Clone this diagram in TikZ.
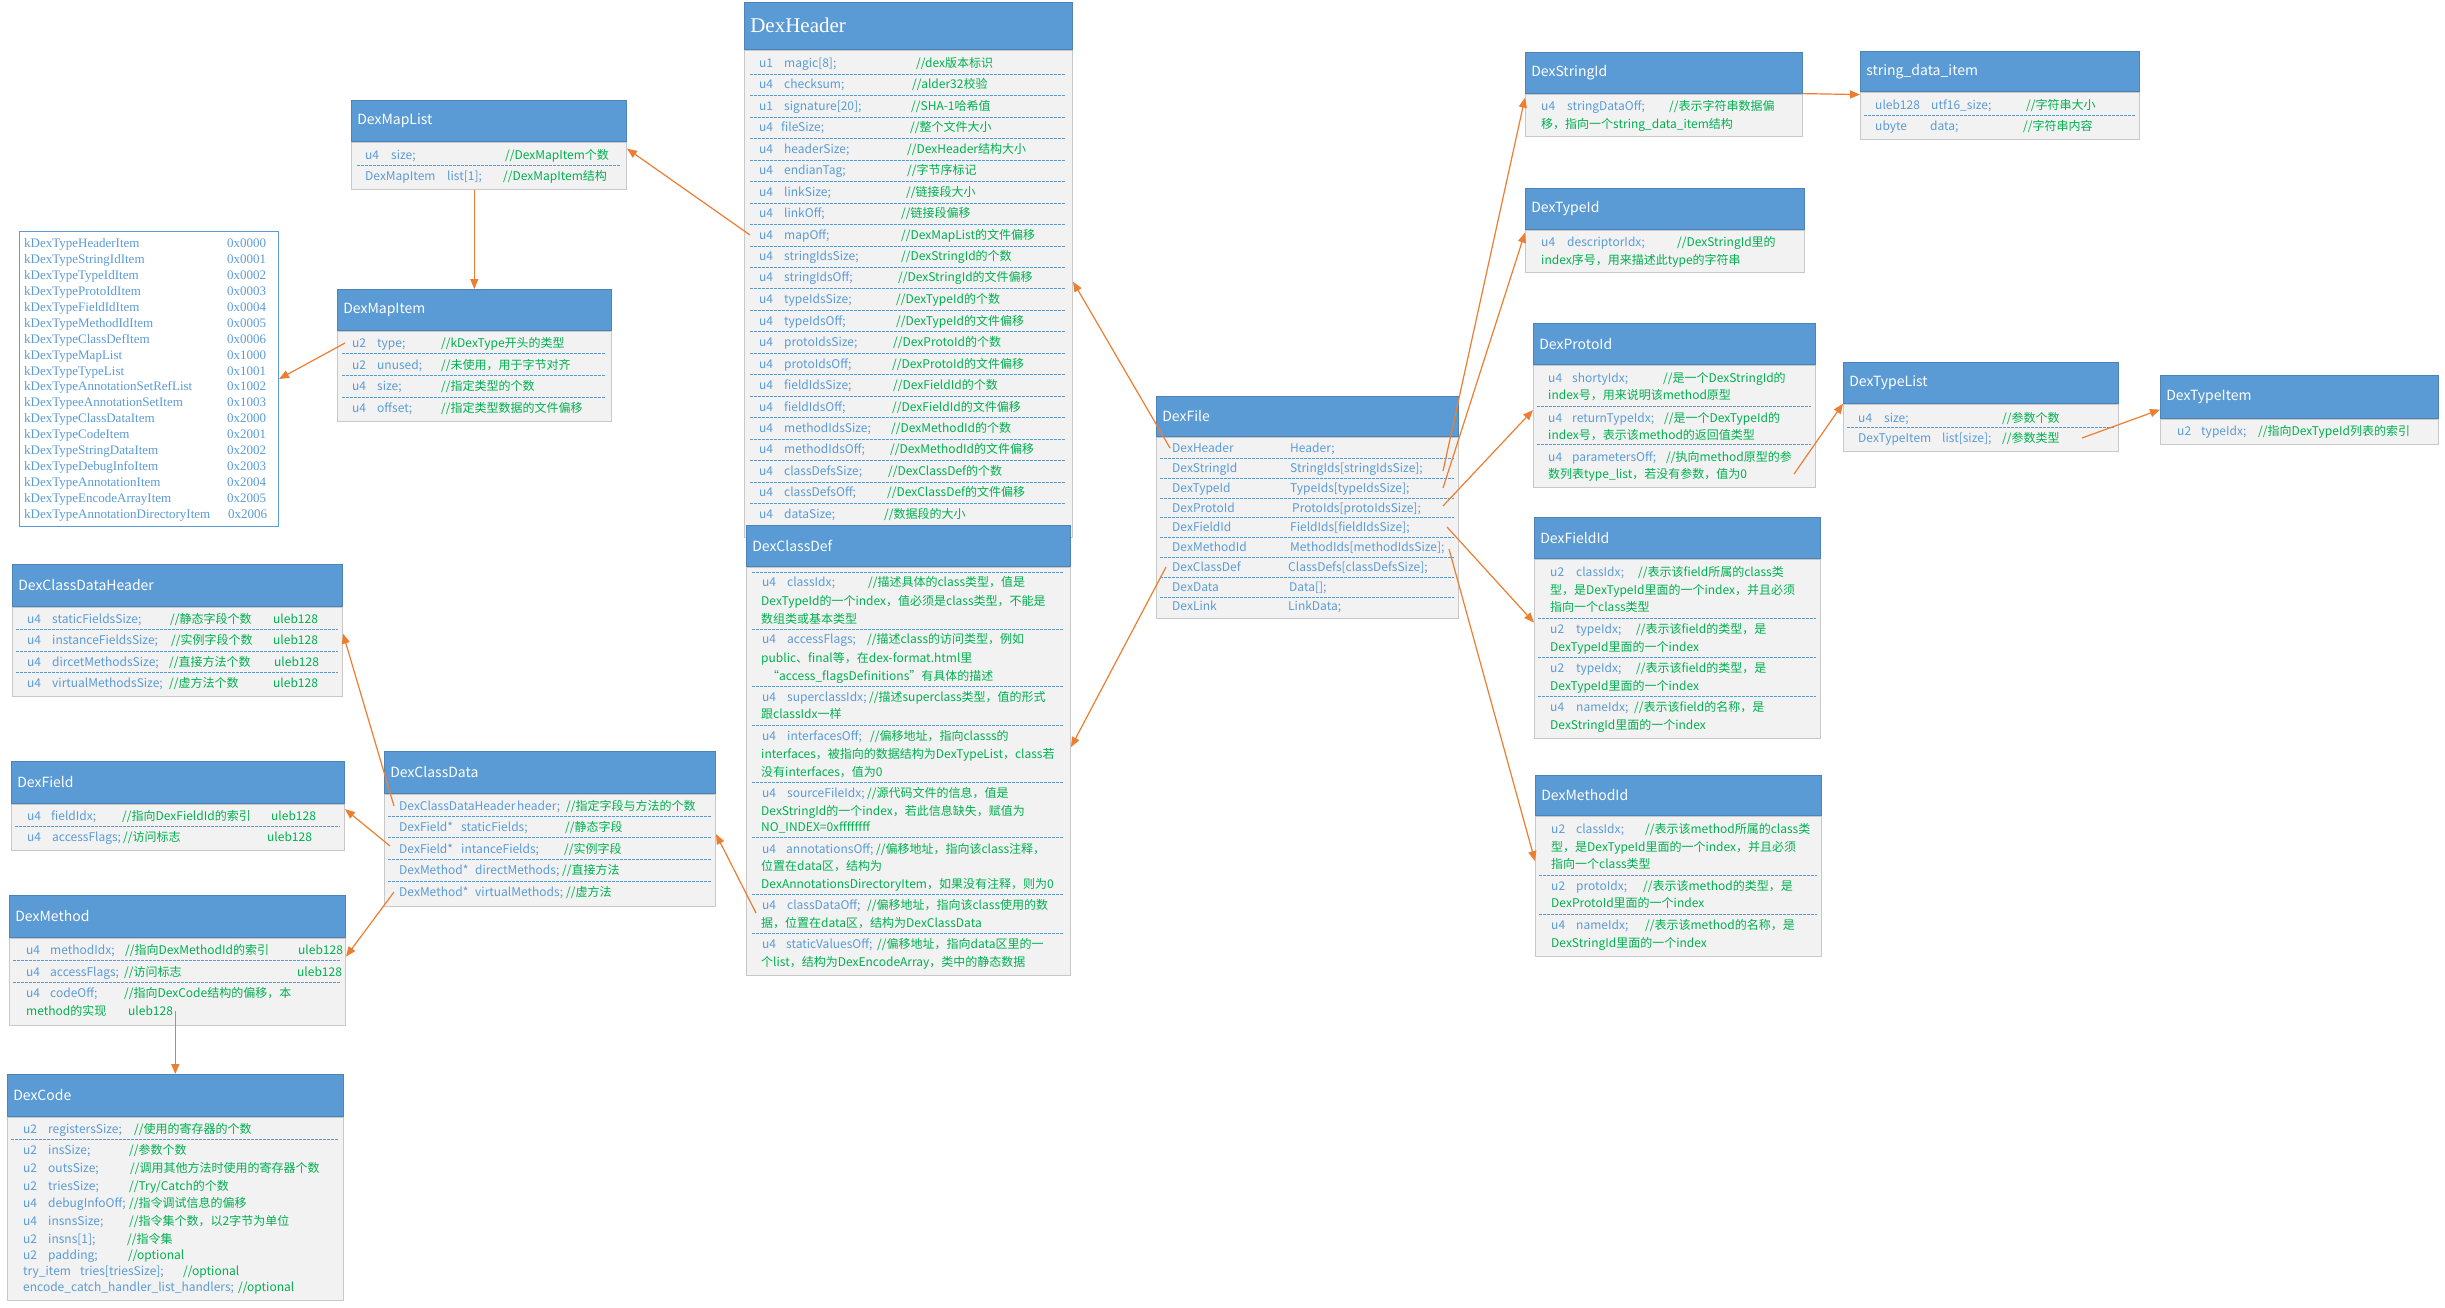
\documentclass[tikz,border=0pt]{standalone}
\usepackage{fontspec}
\setmainfont{Noto Sans CJK SC}
\newfontfamily\serifk{Liberation Serif}
\usepackage{xcolor}
\usepackage{tikz}
\usetikzlibrary{arrows.meta}
\usetikzlibrary{calc}

\definecolor{hblue}{HTML}{5B9BD5}
\definecolor{fblue}{HTML}{5B9BD5}
\definecolor{cgreen}{HTML}{00B050}
\definecolor{bgray}{HTML}{F2F2F2}
\definecolor{lgray}{HTML}{C8C8C8}
\definecolor{aorange}{HTML}{ED7D31}

\newcommand\bx[7]{%
  \node[hd, minimum height=#5pt, anchor=north west] (#1H) at (#2,#3) {\makebox[\dimexpr#4pt-12pt\relax][l]{#7}};
  \node[bd, minimum width=#4pt, minimum height=#6pt, anchor=north west] (#1B) at (#1H.south west) {};}
\newcommand\rw[8]{%
  \node[fn] (#1a) at (#2,#5) {#6};
  \node[fn] (#1b) at (#3,#5) {#7};
  \node[gc] (#1c) at (#4,#5) {#8};}
\newcommand\rt[7]{%
  \node[#1] (#2a) at (#3,#5) {#6};
  \node[#1] (#2b) at (#4,#5) {#7};}

\begin{document}
\begin{tikzpicture}[x=1pt, y=-1pt,
  hd/.style={fill=hblue, draw=hblue!85!black, line width=0.6pt, text=white, font=\fontsize{14}{16}\selectfont, inner xsep=6pt, inner ysep=0pt},
  bd/.style={fill=bgray, draw=lgray, line width=1pt, inner sep=0pt},
  kbox/.style={fill=white, draw=hblue, line width=1pt, inner sep=0pt},
  fn/.style={anchor=west, inner sep=0pt, text height=10pt, text depth=2pt, text=fblue, font=\fontsize{12}{14}\selectfont},
  gc/.style={fn, text=cgreen},
  kt/.style={fn, font=\serifk\fontsize{13}{15}\selectfont},
  sp/.style={draw=hblue, line width=0.8pt, dash pattern=on 2.5pt off 1.5pt},
  ar/.style={draw=aorange, line width=1.2pt, -{Triangle[length=10pt,width=8pt]}}]
\fill[white] (0,0) rectangle (2445,1307);
\useasboundingbox (0,0) rectangle (2445,1307);

\bx{dh}{744}{2}{328}{47}{487}{\serifk\fontsize{21}{24}\selectfont DexHeader}
\rw{dh1}{759}{784}{916}{63}{u1}{magic[8];}{//dex版本标识}
\rw{dh2}{759}{784}{912}{84}{u4}{checksum;}{//alder32校验}
\rw{dh3}{759}{784}{911}{106}{u1}{signature[20];}{//SHA-1哈希值}
\rw{dh4}{759}{781}{910}{127}{u4}{fileSize;}{//整个文件大小}
\rw{dh5}{759}{784}{907}{149}{u4}{headerSize;}{//DexHeader结构大小}
\rw{dh6}{759}{784}{907}{170}{u4}{endianTag;}{//字节序标记}
\rw{dh7}{759}{784}{906}{192}{u4}{linkSize;}{//链接段大小}
\rw{dh8}{759}{784}{901}{213}{u4}{linkOff;}{//链接段偏移}
\rw{dh9}{759}{784}{901}{235}{u4}{mapOff;}{//DexMapList的文件偏移}
\rw{dh10}{759}{784}{901}{256}{u4}{stringIdsSize;}{//DexStringId的个数}
\rw{dh11}{759}{784}{898}{277}{u4}{stringIdsOff;}{//DexStringId的文件偏移}
\rw{dh12}{759}{784}{896}{299}{u4}{typeIdsSize;}{//DexTypeId的个数}
\rw{dh13}{759}{784}{896}{321}{u4}{typeIdsOff;}{//DexTypeId的文件偏移}
\rw{dh14}{759}{784}{893}{342}{u4}{protoIdsSize;}{//DexProtoId的个数}
\rw{dh15}{759}{784}{892}{364}{u4}{protoIdsOff;}{//DexProtoId的文件偏移}
\rw{dh16}{759}{784}{893}{385}{u4}{fieldIdsSize;}{//DexFieldId的个数}
\rw{dh17}{759}{784}{892}{407}{u4}{fieldIdsOff;}{//DexFieldId的文件偏移}
\rw{dh18}{759}{784}{891}{428}{u4}{methodIdsSize;}{//DexMethodId的个数}
\rw{dh19}{759}{784}{890}{449}{u4}{methodIdsOff;}{//DexMethodId的文件偏移}
\rw{dh20}{759}{784}{888}{471}{u4}{classDefsSize;}{//DexClassDef的个数}
\rw{dh21}{759}{784}{887}{492}{u4}{classDefsOff;}{//DexClassDef的文件偏移}
\rw{dh22}{759}{784}{884}{514}{u4}{dataSize;}{//数据段的大小}
\foreach \y in {74,95,117,138,160,181,203,224,246,267,288,310,331,353,374,396,417,439,460,482,503}
  \draw[sp] (750,\y) -- (1066,\y);

\bx{cd}{746}{525}{324}{41}{408}{DexClassDef}
\rw{cd1}{762}{787}{868}{582}{u4}{classIdx;}{//描述具体的class类型，值是}
\node[gc] (cd1d) at (761,601) {DexTypeId的一个index，值必须是class类型，不能是};
\node[gc] (cd1e) at (761,619) {数组类或基本类型};
\rw{cd2}{762}{787}{867}{639}{u4}{accessFlags;}{//描述class的访问类型，例如}
\node[gc] (cd2d) at (761,658) {public、final等，在dex-format.html里};
\node[gc] (cd2e) at (767,676) {“access\_flagsDefinitions"有具体的描述};
\rw{cd3}{762}{787}{869}{697}{u4}{superclassIdx;}{//描述superclass类型，值的形式}
\node[gc] (cd3d) at (761,714) {跟classIdx一样};
\rw{cd4}{762}{787}{870}{736}{u4}{interfacesOff;}{//偏移地址，指向classs的}
\node[gc] (cd4d) at (761,754) {interfaces，被指向的数据结构为DexTypeList，class若};
\node[gc] (cd4e) at (761,772) {没有interfaces，值为0};
\rw{cd5}{762}{787}{867}{793}{u4}{sourceFileIdx;}{//源代码文件的信息，值是}
\node[gc] (cd5d) at (761,811) {DexStringId的一个index，若此信息缺失，赋值为};
\node[gc] (cd5e) at (761,827) {NO\_INDEX=0xffffffff};
\rw{cd6}{762}{786}{876}{849}{u4}{annotationsOff;}{//偏移地址，指向该class注释，}
\node[gc] (cd6d) at (761,866) {位置在data区，结构为};
\node[gc] (cd6e) at (761,884) {DexAnnotationsDirectoryItem，如果没有注释，则为0};
\rw{cd7}{762}{787}{867}{905}{u4}{classDataOff;}{//偏移地址，指向该class使用的数}
\node[gc] (cd7d) at (761,923) {据，位置在data区，结构为DexClassData};
\rw{cd8}{762}{786}{877}{944}{u4}{staticValuesOff;}{//偏移地址，指向data区里的一}
\node[gc] (cd8d) at (761,962) {个list，结构为DexEncodeArray，类中的静态数据};
\foreach \y in {572,629,686,725,782,837,894,933}
  \draw[sp] (752,\y) -- (1064,\y);

\bx{ml}{351}{100}{275}{41}{47}{DexMapList}
\rw{ml1}{365}{391}{505}{155}{u4}{size;}{//DexMapItem个数}
\rw{ml2}{365}{447}{503}{176}{DexMapItem}{list[1];}{//DexMapItem结构}
\draw[sp] (357,165) -- (620,165);

\bx{mi}{337}{289}{274}{41}{90}{DexMapItem}
\rw{mi1}{352}{377}{441}{343}{u2}{type;}{//kDexType开头的类型}
\rw{mi2}{352}{377}{441}{365}{u2}{unused;}{//未使用，用于字节对齐}
\rw{mi3}{352}{377}{441}{386}{u4}{size;}{//指定类型的个数}
\rw{mi4}{352}{377}{441}{408}{u4}{offset;}{//指定类型数据的文件偏移}
\foreach \y in {353,375,397}
  \draw[sp] (342,\y) -- (606,\y);

\node[kbox, minimum width=259pt, minimum height=295pt, anchor=north west] (kd) at (19,231) {};
\rt{kt}{k1}{24}{227}{243}{kDexTypeHeaderItem}{0x0000}
\rt{kt}{k2}{24}{227}{259}{kDexTypeStringIdItem}{0x0001}
\rt{kt}{k3}{24}{227}{275}{kDexTypeTypeIdItem}{0x0002}
\rt{kt}{k4}{24}{227}{291}{kDexTypeProtoIdItem}{0x0003}
\rt{kt}{k5}{24}{227}{307}{kDexTypeFieldIdItem}{0x0004}
\rt{kt}{k6}{24}{227}{323}{kDexTypeMethodIdItem}{0x0005}
\rt{kt}{k7}{24}{227}{339}{kDexTypeClassDefItem}{0x0006}
\rt{kt}{k8}{24}{227}{355}{kDexTypeMapList}{0x1000}
\rt{kt}{k9}{24}{227}{371}{kDexTypeTypeList}{0x1001}
\rt{kt}{k10}{24}{227}{386}{kDexTypeAnnotationSetRefList}{0x1002}
\rt{kt}{k11}{24}{227}{402}{kDexTypeeAnnotationSetItem}{0x1003}
\rt{kt}{k12}{24}{227}{418}{kDexTypeClassDataItem}{0x2000}
\rt{kt}{k13}{24}{227}{434}{kDexTypeCodeItem}{0x2001}
\rt{kt}{k14}{24}{227}{450}{kDexTypeStringDataItem}{0x2002}
\rt{kt}{k15}{24}{227}{466}{kDexTypeDebugInfoItem}{0x2003}
\rt{kt}{k16}{24}{227}{482}{kDexTypeAnnotationItem}{0x2004}
\rt{kt}{k17}{24}{227}{498}{kDexTypeEncodeArrayItem}{0x2005}
\rt{kt}{k18}{24}{228}{514}{kDexTypeAnnotationDirectoryItem}{0x2006}

\bx{ch}{12}{564}{330}{42}{89}{DexClassDataHeader}
\rw{ch1}{27}{52}{170}{619}{u4}{staticFieldsSize;}{//静态字段个数}
\node[gc] (ch1d) at (273,619) {uleb128};
\rw{ch2}{27}{52}{171}{640}{u4}{instanceFieldsSize;}{//实例字段个数}
\node[gc] (ch2d) at (273,640) {uleb128};
\rw{ch3}{27}{52}{169}{662}{u4}{dircetMethodsSize;}{//直接方法个数}
\node[gc] (ch3d) at (274,662) {uleb128};
\rw{ch4}{27}{52}{169}{683}{u4}{virtualMethodsSize;}{//虚方法个数}
\node[gc] (ch4d) at (273,683) {uleb128};
\foreach \y in {629,651,672}
  \draw[sp] (16,\y) -- (338,\y);

\bx{fi}{11}{761}{333}{42}{46}{DexField}
\rw{fi1}{27}{51}{122}{816}{u4}{fieldIdx;}{//指向DexFieldId的索引}
\node[gc] (fi1d) at (271,816) {uleb128};
\rw{fi2}{27}{52}{123}{837}{u4}{accessFlags;}{//访问标志}
\node[gc] (fi2d) at (267,837) {uleb128};
\draw[sp] (15,826) -- (340,826);

\bx{me}{9}{895}{336}{42}{87}{DexMethod}
\rw{me1}{26}{50}{125}{950}{u4}{methodIdx;}{//指向DexMethodId的索引}
\node[gc] (me1d) at (298,950) {uleb128};
\rw{me2}{26}{50}{124}{972}{u4}{accessFlags;}{//访问标志}
\node[gc] (me2d) at (297,972) {uleb128};
\rw{me3}{26}{50}{124}{993}{u4}{codeOff;}{//指向DexCode结构的偏移，本}
\node[gc] (me3d) at (26,1011) {method的实现};
\node[gc] (me3e) at (128,1011) {uleb128};
\foreach \y in {960,982}
  \draw[sp] (13,\y) -- (341,\y);

\bx{co}{7}{1074}{336}{42}{183}{DexCode}
\rw{co1}{23}{48}{134}{1129}{u2}{registersSize;}{//使用的寄存器的个数}
\draw[sp] (11,1139) -- (339,1139);
\rw{co2}{23}{48}{129}{1150}{u2}{insSize;}{//参数个数}
\rw{co3}{23}{48}{130}{1168}{u2}{outsSize;}{//调用其他方法时使用的寄存器个数}
\rw{co4}{23}{48}{129}{1186}{u2}{triesSize;}{//Try/Catch的个数}
\rw{co5}{23}{48}{129}{1203}{u4}{debugInfoOff;}{//指令调试信息的偏移}
\rw{co6}{23}{48}{129}{1221}{u4}{insnsSize;}{//指令集个数，以2字节为单位}
\rw{co7}{23}{48}{127}{1239}{u2}{insns[1];}{//指令集}
\rw{co8}{23}{48}{128}{1255}{u2}{padding;}{//optional}
\rw{co9}{23}{80}{183}{1271}{try\_item}{tries[triesSize];}{//optional}
\node[fn] (co10a) at (23,1287) {encode\_catch\_handler\_list\_handlers;};
\node[gc] (co10c) at (238,1287) {//optional};

\bx{cl}{384}{751}{331}{42}{112}{DexClassData}
\rw{cl1}{399}{517}{566}{806}{DexClassDataHeader}{header;}{//指定字段与方法的个数}
\rw{cl2}{399}{461}{565}{827}{DexField*}{staticFields;}{//静态字段}
\rw{cl3}{399}{461}{564}{849}{DexField*}{intanceFields;}{//实例字段}
\rw{cl4}{399}{475}{562}{870}{DexMethod*}{directMethods;}{//直接方法}
\rw{cl5}{399}{475}{566}{892}{DexMethod*}{virtualMethods;}{//虚方法}
\foreach \y in {816,837,859,881}
  \draw[sp] (388,\y) -- (711,\y);

\bx{df}{1156}{396}{302}{40}{181}{DexFile}
\rt{fn}{df1}{1172}{1290}{448}{DexHeader}{Header;}
\rt{fn}{df2}{1172}{1290}{468}{DexStringId}{StringIds[stringIdsSize];}
\rt{fn}{df3}{1172}{1290}{488}{DexTypeId}{TypeIds[typeIdsSize];}
\rt{fn}{df4}{1172}{1292}{508}{DexProtoId}{ProtoIds[protoIdsSize];}
\rt{fn}{df5}{1172}{1290}{527}{DexFieldId}{FieldIds[fieldIdsSize];}
\rt{fn}{df6}{1172}{1290}{547}{DexMethodId}{MethodIds[methodIdsSize];}
\rt{fn}{df7}{1172}{1288}{567}{DexClassDef}{ClassDefs[classDefsSize];}
\rt{fn}{df8}{1172}{1289}{587}{DexData}{Data[];}
\rt{fn}{df9}{1172}{1288}{606}{DexLink}{LinkData;}
\foreach \y in {458,478,498,517,537,557,577,597}
  \draw[sp] (1160,\y) -- (1454,\y);

\bx{si}{1525}{52}{277}{41}{42}{DexStringId}
\rw{si1}{1541}{1567}{1669}{106}{u4}{stringDataOff;}{//表示字符串数据偏}
\node[gc] (si1d) at (1541,124) {移，指向一个string\_data\_item结构};

\bx{sd}{1860}{51}{279}{40}{47}{string\_data\_item}
\rw{sd1}{1875}{1931}{2026}{105}{uleb128}{utf16\_size;}{//字符串大小}
\rw{sd2}{1875}{1930}{2023}{126}{ubyte}{data;}{//字符串内容}
\draw[sp] (1864,115) -- (2135,115);

\bx{ti}{1525}{188}{279}{41}{42}{DexTypeId}
\rw{ti1}{1541}{1567}{1677}{242}{u4}{descriptorIdx;}{//DexStringId里的}
\node[gc] (ti1d) at (1541,260) {index序号，用来描述此type的字符串};

\bx{pi}{1533}{323}{282}{41}{122}{DexProtoId}
\rw{pi1}{1548}{1572}{1663}{378}{u4}{shortyIdx;}{//是一个DexStringId的}
\node[gc] (pi1d) at (1548,395) {index号，用来说明该method原型};
\rw{pi2}{1548}{1572}{1664}{418}{u4}{returnTypeIdx;}{//是一个DexTypeId的}
\node[gc] (pi2d) at (1548,435) {index号，表示该method的返回值类型};
\rw{pi3}{1548}{1572}{1666}{457}{u4}{parametersOff;}{//执向method原型的参}
\node[gc] (pi3d) at (1548,474) {数列表type\_list，若没有参数，值为0};
\foreach \y in {406,444}
  \draw[sp] (1537,\y) -- (1811,\y);

\bx{tl}{1843}{362}{275}{41}{47}{DexTypeList}
\rw{tl1}{1858}{1884}{2002}{418}{u4}{size;}{//参数个数}
\rw{tl2}{1858}{1942}{2002}{438}{DexTypeItem}{list[size];}{//参数类型}
\draw[sp] (1847,427) -- (2114,427);

\bx{tm}{2160}{375}{278}{43}{25}{DexTypeItem}
\rw{tm1}{2177}{2201}{2258}{431}{u2}{typeIdx;}{//指向DexTypeId列表的索引}

\bx{fid}{1534}{517}{286}{41}{179}{DexFieldId}
\rw{fid1}{1550}{1576}{1638}{572}{u2}{classIdx;}{//表示该field所属的class类}
\node[gc] (fid1d) at (1550,590) {型，是DexTypeId里面的一个index，并且必须};
\node[gc] (fid1e) at (1550,607) {指向一个class类型};
\rw{fid2}{1550}{1576}{1636}{629}{u2}{typeIdx;}{//表示该field的类型，是}
\node[gc] (fid2d) at (1550,647) {DexTypeId里面的一个index};
\rw{fid3}{1550}{1576}{1636}{668}{u2}{typeIdx;}{//表示该field的类型，是}
\node[gc] (fid3d) at (1550,686) {DexTypeId里面的一个index};
\rw{fid4}{1550}{1576}{1634}{707}{u4}{nameIdx;}{//表示该field的名称，是}
\node[gc] (fid4d) at (1550,725) {DexStringId里面的一个index};
\foreach \y in {618,657,696}
  \draw[sp] (1538,\y) -- (1816,\y);

\bx{mid}{1535}{775}{286}{40}{140}{DexMethodId}
\rw{mid1}{1551}{1576}{1645}{829}{u2}{classIdx;}{//表示该method所属的class类}
\node[gc] (mid1d) at (1551,847) {型，是DexTypeId里面的一个index，并且必须};
\node[gc] (mid1e) at (1551,864) {指向一个class类型};
\rw{mid2}{1551}{1576}{1643}{886}{u2}{protoIdx;}{//表示该method的类型，是}
\node[gc] (mid2d) at (1551,903) {DexProtoId里面的一个index};
\rw{mid3}{1551}{1576}{1645}{925}{u4}{nameIdx;}{//表示该method的名称，是}
\node[gc] (mid3d) at (1551,943) {DexStringId里面的一个index};
\foreach \y in {875,914}
  \draw[sp] (1539,\y) -- (1817,\y);

\draw[ar] ([xshift=-9pt]dh9a.west) -- ([yshift=-7pt]mlB.north east);
\draw[ar] (mlB.south -| miH.north) -- (miH.north);
\draw[ar] ([xshift=-7pt]mi1a.west) -- (kd.east);
\draw[ar] ([xshift=-2pt]df1a.west) -- ([yshift=12pt]dhB.east);
\draw[ar] ([xshift=-6pt]df7a.west) -- ([yshift=24pt]cdB.east);
\draw[ar] ($(dfB.east |- df2b)+(-16,3)$) -- ([yshift=-4pt]siB.north west);
\draw[ar] ($(dfB.east |- df3b)+(-16,0)$) -- ([yshift=-3pt]tiB.north west);
\draw[ar] ($(dfB.east |- df4b)+(-16,-2)$) -- ([yshift=16pt]piB.west);
\draw[ar] ($(dfB.east |- df5b)+(-12,0)$) -- ([yshift=26pt]fidB.west);
\draw[ar] ($(dfB.east |- df6b)+(-10,2)$) -- ([yshift=25pt]midB.west);
\draw[ar] (siB.north east) -- ([yshift=-3pt]sdB.north west);
\draw[ar] ($(piB.east |- pi3d)+(-22,0)$) -- (tlB.north west);
\draw[ar] ($(tlB.east |- tl2c)+(-37,0)$) -- ([yshift=9pt]tmB.north west);
\draw[ar] ([shift={(-6pt,-8pt)}]cd7a.west) -- ([yshift=16pt]clB.east);
\draw[ar] ([xshift=-5pt]cl1a.west) -- ([yshift=18pt]chB.east);
\draw[ar] ([shift={(-9pt,3pt)}]cl3a.west) -- ([yshift=18pt]fiB.east);
\draw[ar] ([xshift=-5pt]cl5a.west) -- ([yshift=25pt]meB.east);
\draw[ar] (coH.north |- me3e) -- (coH.north);
\end{tikzpicture}
\end{document}
